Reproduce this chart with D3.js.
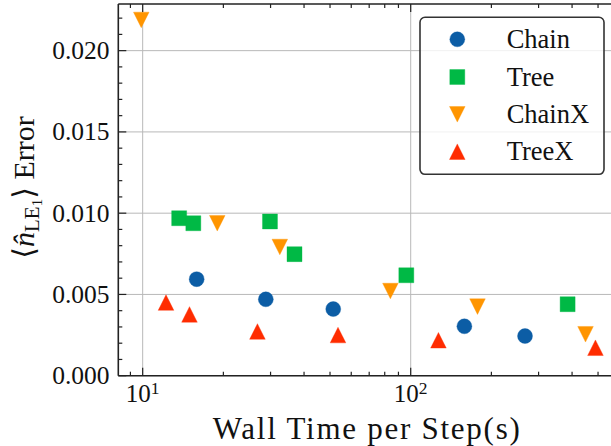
<!DOCTYPE html>
<html>
<head>
<meta charset="utf-8">
<script src="https://cdn.jsdelivr.net/npm/d3@7"></script>
<style>
  html, body { margin: 0; padding: 0; background: #fff; }
  svg { display: block; }
</style>
</head>
<body>
<svg id="chart" width="611" height="446"></svg>
<script>
// ---- data ----
const seriesNames = ["Chain", "Tree", "ChainX", "TreeX"];
const chainTime  = [15.9, 28.8, 51.4, 158.6, 267];
const chainErr   = [0.00594, 0.00470, 0.00410, 0.00304, 0.00244];
const treeTime   = [13.68, 15.45, 29.85, 36.85, 96.3, 385];
const treeErr    = [0.00969, 0.00938, 0.00949, 0.00748, 0.00618, 0.00440];
const chainXTime = [9.88, 18.98, 32.48, 84.0, 177.5, 449];
const chainXErr  = [0.02189, 0.00938, 0.00792, 0.00521, 0.00425, 0.00255];
const treeXTime  = [12.22, 14.95, 26.8, 53.55, 126.9, 489];
const treeXErr   = [0.00450, 0.00377, 0.00272, 0.00250, 0.00218, 0.00172];
const yTickValues = [0, 0.005, 0.010, 0.015, 0.020];
const yTickLabels = ["0.000", "0.005", "0.010", "0.015", "0.020"];
const xMajorTicks = [10, 100];
const xTickExponents = ["1", "2"];

(function () {
const FONT = "'Liberation Serif', 'Times New Roman', 'DejaVu Serif', serif";
const pL = 118.3, pR = 612, pT = 4, pB = 375.7;
const svg = d3.select("#chart");

const x = d3.scaleLog().domain([8.11, 563.7]).range([pL, pR]);
const y = d3.scaleLinear().domain([0, 0.02287]).range([pB, pT]);

const colors = { Chain: "#0C5DA5", Tree: "#00B945", ChainX: "#FF9500", TreeX: "#FF2C00" };

const triUp = { draw(ctx, size) { const s = Math.sqrt(size) / 2; ctx.moveTo(0, -s); ctx.lineTo(s, s); ctx.lineTo(-s, s); ctx.closePath(); } };
const triDown = { draw(ctx, size) { const s = Math.sqrt(size) / 2; ctx.moveTo(0, s); ctx.lineTo(-s, -s); ctx.lineTo(s, -s); ctx.closePath(); } };

const symbols = {
  Chain: d3.symbol().type(d3.symbolCircle).size(Math.PI * 7.5 * 7.5),
  Tree: d3.symbol().type(d3.symbolSquare).size(15 * 15),
  ChainX: d3.symbol().type(triDown).size(15.6 * 15.6),
  TreeX: d3.symbol().type(triUp).size(15.6 * 15.6)
};

const series = [
  { name: "Chain", xs: chainTime, ys: chainErr },
  { name: "Tree", xs: treeTime, ys: treeErr },
  { name: "ChainX", xs: chainXTime, ys: chainXErr },
  { name: "TreeX", xs: treeXTime, ys: treeXErr }
];

svg.append("defs").append("clipPath").attr("id", "clip")
  .append("rect").attr("x", pL).attr("y", pT).attr("width", pR - pL).attr("height", pB - pT);

const grid = svg.append("g").attr("stroke", "#b8b8b8").attr("stroke-width", 1);
grid.selectAll("line.gy").data(yTickValues).join("line")
  .attr("x1", pL).attr("x2", pR).attr("y1", d => y(d)).attr("y2", d => y(d));
grid.selectAll("line.gx").data(xMajorTicks).join("line")
  .attr("x1", d => x(d)).attr("x2", d => x(d)).attr("y1", pT).attr("y2", pB);

const plot = svg.append("g").attr("clip-path", "url(#clip)");
series.forEach(s => {
  plot.append("g").selectAll("path").data(s.xs.map((v, i) => [v, s.ys[i]])).join("path")
    .attr("d", symbols[s.name]())
    .attr("transform", d => `translate(${x(d[0])},${y(d[1])})`)
    .attr("fill", colors[s.name])
    .attr("stroke", colors[s.name]).attr("stroke-width", 0.6).attr("stroke-opacity", 0.6);
});

const tickG = svg.append("g").attr("stroke", "#222").attr("stroke-width", 1.2);
const xMinor = [];
[1, 10, 100].forEach(dec => { for (let k = 2; k <= 9; k++) { const v = dec * k; if (v > 8.11 && v < 563.7) xMinor.push(v); } });
xMajorTicks.forEach(v => {
  tickG.append("line").attr("x1", x(v)).attr("x2", x(v)).attr("y1", pB).attr("y2", pB - 8);
  tickG.append("line").attr("x1", x(v)).attr("x2", x(v)).attr("y1", pT).attr("y2", pT + 8);
});
xMinor.forEach(v => {
  tickG.append("line").attr("x1", x(v)).attr("x2", x(v)).attr("y1", pB).attr("y2", pB - 4);
  tickG.append("line").attr("x1", x(v)).attr("x2", x(v)).attr("y1", pT).attr("y2", pT + 4);
});
const yMinor = d3.range(0, 0.0229, 0.001).filter(v => Math.abs(v / 0.005 - Math.round(v / 0.005)) > 1e-6);
yTickValues.forEach(v => {
  tickG.append("line").attr("x1", pL).attr("x2", pL + 8).attr("y1", y(v)).attr("y2", y(v));
});
yMinor.forEach(v => {
  tickG.append("line").attr("x1", pL).attr("x2", pL + 4).attr("y1", y(v)).attr("y2", y(v));
});

const sp = svg.append("g").attr("stroke", "#222").attr("stroke-width", 1.6).attr("fill", "none");
sp.append("line").attr("x1", pL).attr("x2", pR).attr("y1", pB).attr("y2", pB);
sp.append("line").attr("x1", pL).attr("x2", pR).attr("y1", pT).attr("y2", pT);
sp.append("line").attr("x1", pL).attr("x2", pL).attr("y1", pT).attr("y2", pB);

const txt = (sel) => sel.attr("font-family", FONT).attr("fill", "#111");

yTickValues.forEach((v, i) => {
  txt(svg.append("text")).attr("x", 109.5).attr("y", y(v) + 8.4)
    .attr("text-anchor", "end").attr("font-size", 25.5).text(yTickLabels[i]);
});
xMajorTicks.forEach((v, i) => {
  const t = txt(svg.append("text")).attr("x", x(v)).attr("y", 401.7)
    .attr("text-anchor", "middle").attr("font-size", 25);
  t.append("tspan").text("10");
  t.append("tspan").attr("font-size", 17.5).attr("dy", -7.5).text(xTickExponents[i]);
});

txt(svg.append("text")).attr("x", 366.3).attr("y", 438.5).attr("text-anchor", "middle")
  .attr("font-size", 31).attr("textLength", 307).attr("lengthAdjust", "spacing")
  .text("Wall Time per Step(s)");

const yl = txt(svg.append("text")).attr("transform", "translate(33.5,187.5) rotate(-90)")
  .attr("text-anchor", "middle").attr("font-size", 30);
yl.append("tspan").text("⟨");
yl.append("tspan").attr("font-style", "italic").text("n\u0302");
yl.append("tspan").attr("font-size", 21).attr("dy", 5).text("LE");
yl.append("tspan").attr("font-size", 15).attr("dy", 3).text("1");
yl.append("tspan").attr("dy", -8).text("⟩ Error");

const lg = svg.append("g");
lg.append("rect").attr("x", 420).attr("y", 17.3).attr("width", 184).attr("height", 157)
  .attr("rx", 5).attr("ry", 5).attr("fill", "#fff").attr("fill-opacity", 0.8)
  .attr("stroke", "#333").attr("stroke-width", 1.6);
const rowY = [39.3, 77, 114.3, 151.7];
seriesNames.forEach((n, i) => {
  lg.append("path").attr("d", symbols[n]()).attr("transform", `translate(457.3,${rowY[i]})`)
    .attr("fill", colors[n]).attr("stroke", colors[n]).attr("stroke-width", 0.6).attr("stroke-opacity", 0.6);
  txt(lg.append("text")).attr("x", 506.7).attr("y", rowY[i] + 8.5).attr("font-size", 26.5).text(n);
});
})();
</script>
</body>
</html>
